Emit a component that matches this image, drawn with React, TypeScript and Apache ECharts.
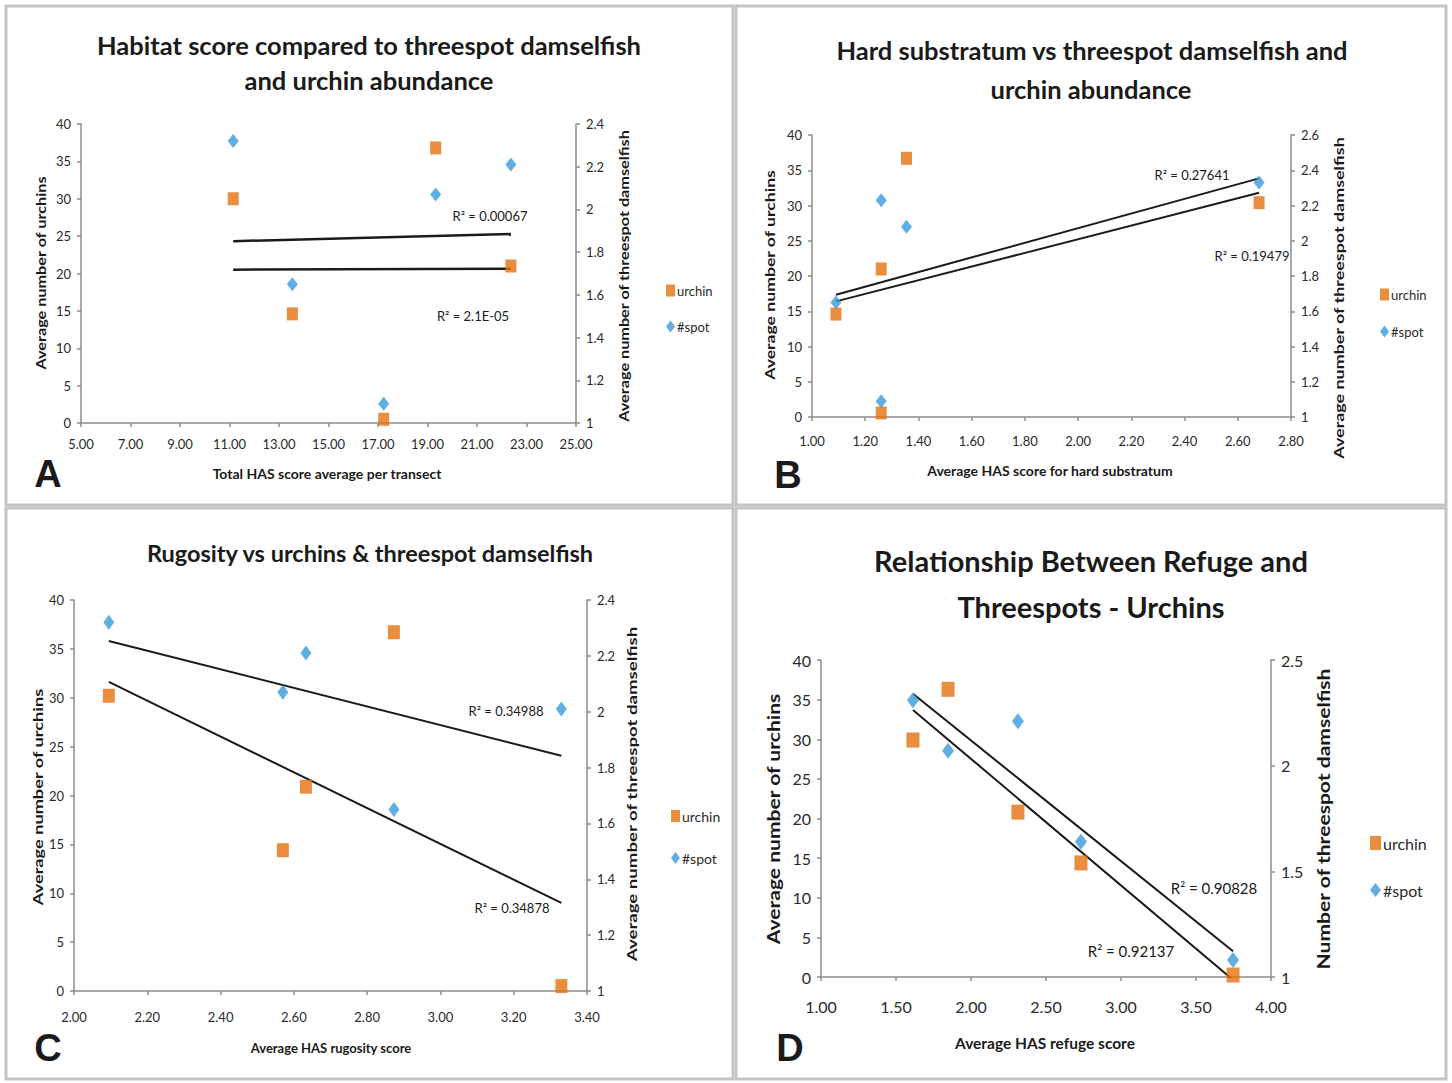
import React, { useEffect, useRef } from "react";
import * as echarts from "echarts";

// ---------- data ----------
// Panel A: Total HAS score average per transect
const xA = [11.15, 13.54, 17.23, 19.33, 22.37];
const urchinA = [30.0, 14.6, 0.5, 36.8, 21.0];
const spotA = [2.32, 1.65, 1.09, 2.07, 2.21];
const xTicksA = [5, 7, 9, 11, 13, 15, 17, 19, 21, 23, 25];
const r2A = ["R\u00b2 = 0.00067", "R\u00b2 = 2.1E-05"]; // spot, urchin

// Panel B: Average HAS score for hard substratum
const xB = [1.09, 1.26, 1.26, 1.355, 2.68];
const urchinB = [14.6, 21.0, 0.57, 36.7, 30.4];
const spotB = [1.65, 2.23, 1.09, 2.08, 2.33];
const r2B = ["R\u00b2 = 0.27641", "R\u00b2 = 0.19479"];

// Panel C: Average HAS rugosity score
const xC = [2.095, 2.57, 2.633, 2.873, 3.33];
const urchinC = [30.2, 14.4, 20.9, 36.7, 0.5];
const spotC = [2.32, 2.07, 2.21, 1.65, 2.01];
const r2C = ["R\u00b2 = 0.34988", "R\u00b2 = 0.34878"];

// Panel D: Average HAS refuge score
const xD = [1.613, 1.847, 2.313, 2.733, 3.747];
const urchinD = [29.9, 36.3, 20.8, 14.4, 0.25];
const spotD = [2.31, 2.07, 2.21, 1.64, 1.08];
const r2D = ["R\u00b2 = 0.90828", "R\u00b2 = 0.92137"];

const titles = [
  ["Habitat score compared to threespot damselfish", "and urchin abundance"],
  ["Hard substratum vs threespot damselfish and", "urchin abundance"],
  ["Rugosity vs urchins & threespot damselfish"],
  ["Relationship Between Refuge and", "Threespots - Urchins"],
];
const xNames = [
  "Total HAS score average per transect",
  "Average HAS score for hard substratum",
  "Average HAS rugosity score",
  "Average HAS refuge score",
];
const leftNames = [
  "Average number of urchins",
  "Average number of urchins",
  "Average number of urchins",
  "Average number of urchins",
];
const rightNames = [
  "Average number of threespot damselfish",
  "Average number of threespot damselfish",
  "Average number of threespot damselfish",
  "Number of threespot damselfish",
];
const letters = ["A", "B", "C", "D"];
const seriesNames = ["urchin", "#spot"];

const FONT = "Lato";
const ORANGE = "#E5700E";
const BLUE = "#3A9AD8";
const AXIS = "#8c8c8c";
const INK = "#1a1a1a";

// least-squares trend line between the smallest and largest x
function trend(xs: number[], ys: number[]) {
  const n = xs.length;
  const mx = xs.reduce((a, b) => a + b, 0) / n;
  const my = ys.reduce((a, b) => a + b, 0) / n;
  let sxy = 0, sxx = 0;
  for (let i = 0; i < n; i++) {
    sxy += (xs[i] - mx) * (ys[i] - my);
    sxx += (xs[i] - mx) * (xs[i] - mx);
  }
  const b = sxy / sxx;
  const a = my - b * mx;
  const x0 = Math.min(...xs), x1 = Math.max(...xs);
  return [[x0, a + b * x0], [x1, a + b * x1]];
}
const zip = (xs: number[], ys: number[]) => xs.map((x, i) => [x, ys[i]]);

function buildOption() {
  const panels = [
    { xs: xA, u: urchinA, s: spotA, grid: { left: 81, top: 124, width: 495, height: 299 },
      xmin: 5, xmax: 25, xint: 2, xTicks: xTicksA, rmax: 2.4, rint: 0.2, fs: 13, lfs: 13,
      xm: 14, lw: 2.5, sq: [11, 13], dm: [11, 14],
      legend: { left: 661, top: 279, gap: 23 } },
    { xs: xB, u: urchinB, s: spotB, grid: { left: 812, top: 135, width: 479, height: 282 },
      xmin: 1, xmax: 2.8, xint: 0.2, rmax: 2.6, rint: 0.2, fs: 13, lfs: 13,
      xm: 17, lw: 2, sq: [11, 13], dm: [11, 14],
      legend: { left: 1375, top: 283, gap: 24 } },
    { xs: xC, u: urchinC, s: spotC, grid: { left: 74, top: 600, width: 513, height: 391 },
      xmin: 2, xmax: 3.4, xint: 0.2, rmax: 2.4, rint: 0.2, fs: 13, lfs: 14,
      xm: 19, lw: 2, sq: [12, 14], dm: [11, 15],
      legend: { left: 666, top: 804, gap: 28 } },
    { xs: xD, u: urchinD, s: spotD, grid: { left: 821, top: 660, width: 450, height: 317 },
      xmin: 1, xmax: 4, xint: 0.5, rmax: 2.5, rint: 0.5, fs: 16, lfs: 16,
      xm: 21, lw: 2, sq: [13, 15], dm: [12, 16],
      legend: { left: 1365, top: 830, gap: 31 } },
  ];

  const lineCommon = { color: AXIS, width: 1.5 };
  const grid: any[] = [];
  const xAxis: any[] = [];
  const yAxis: any[] = [];
  const series: any[] = [];
  const legend: any[] = [];

  panels.forEach((p, i) => {
    grid.push({ ...p.grid, containLabel: false });
    const xa: any = {
      type: "value", gridIndex: i, min: p.xmin, max: p.xmax,
      axisLine: { show: true, onZero: false, lineStyle: lineCommon },
      axisTick: { show: true, length: 4, lineStyle: lineCommon },
      splitLine: { show: false },
      axisLabel: {
        color: "#2a2a2a", fontFamily: FONT, fontSize: p.fs, margin: p.xm,
        formatter: (v: number) => v.toFixed(2),
      },
    };
    if (p.xTicks) {
      xa.axisLabel.customValues = p.xTicks;
      xa.axisTick.customValues = p.xTicks;
    } else {
      xa.interval = p.xint;
    }
    xAxis.push(xa);
    yAxis.push({
      type: "value", gridIndex: i, position: "left", min: 0, max: 40, interval: 5,
      axisLine: { show: true, lineStyle: lineCommon },
      axisTick: { show: true, length: 4, lineStyle: lineCommon },
      splitLine: { show: false },
      axisLabel: { color: "#2a2a2a", fontFamily: FONT, fontSize: p.fs, margin: 10 },
    });
    yAxis.push({
      type: "value", gridIndex: i, position: "right", min: 1, max: p.rmax, interval: p.rint,
      axisLine: { show: true, lineStyle: lineCommon },
      axisTick: { show: true, length: 4, lineStyle: lineCommon },
      splitLine: { show: false },
      axisLabel: {
        color: "#2a2a2a", fontFamily: FONT, fontSize: p.fs, margin: 10,
        formatter: (v: number) => String(+v.toFixed(1)),
      },
    });
    series.push({
      type: "line", xAxisIndex: i, yAxisIndex: 2 * i, data: trend(p.xs, p.u),
      showSymbol: false, silent: true, z: 2,
      lineStyle: { color: INK, width: p.lw },
    });
    series.push({
      type: "line", xAxisIndex: i, yAxisIndex: 2 * i + 1, data: trend(p.xs, p.s),
      showSymbol: false, silent: true, z: 2,
      lineStyle: { color: INK, width: p.lw },
    });
    series.push({
      type: "scatter", name: seriesNames[0], xAxisIndex: i, yAxisIndex: 2 * i,
      data: zip(p.xs, p.u), symbol: "rect", symbolSize: p.sq, z: 4,
      itemStyle: { color: ORANGE },
    });
    series.push({
      type: "scatter", name: seriesNames[1], xAxisIndex: i, yAxisIndex: 2 * i + 1,
      data: zip(p.xs, p.s), symbol: "diamond", symbolSize: p.dm, z: 5,
      itemStyle: { color: BLUE },
    });
    legend.push({
      orient: "vertical", left: p.legend.left, top: p.legend.top, itemGap: p.legend.gap,
      itemWidth: i === 3 ? 11 : 9, itemHeight: i === 3 ? 14 : 12,
      textStyle: { fontFamily: FONT, fontSize: p.lfs, color: "#2a2a2a", padding: [0, 0, 0, -3] },
      data: [
        { name: seriesNames[0], icon: "rect", itemStyle: { color: ORANGE } },
        { name: seriesNames[1], icon: "diamond", itemStyle: { color: BLUE } },
      ],
      selectedMode: false,
    });
  });

  const g: any[] = [];
  const borders = [
    [6, 6, 727, 499], [736, 6, 710, 499], [6, 508, 727, 571], [736, 508, 710, 571],
  ];
  borders.forEach((b) =>
    g.push({
      type: "rect", shape: { x: b[0], y: b[1], width: b[2], height: b[3] },
      style: { fill: "none", stroke: "#c4c4c4", lineWidth: 3 }, silent: true, z: 0,
    })
  );
  const text = (t: string, x: number, y: number, font: string, extra: any = {}) => ({
    type: "text", x, y, silent: true, ...extra,
    style: { text: t, font, fill: INK, textAlign: "center", verticalAlign: "middle" },
  });
  // titles
  g.push(text(titles[0][0], 369, 45, `bold 25.5px ${FONT}`));
  g.push(text(titles[0][1], 369, 80, `bold 25.5px ${FONT}`));
  g.push(text(titles[1][0], 1092, 50, `bold 25.5px ${FONT}`));
  g.push(text(titles[1][1], 1091, 89, `bold 25.5px ${FONT}`));
  g.push(text(titles[2][0], 370, 553, `bold 23.5px ${FONT}`));
  g.push(text(titles[3][0], 1091, 560, `bold 29px ${FONT}`));
  g.push(text(titles[3][1], 1091, 606, `bold 29px ${FONT}`));
  // x-axis names
  g.push(text(xNames[0], 327, 473, `bold 14px ${FONT}`));
  g.push(text(xNames[1], 1050, 470, `bold 14px ${FONT}`));
  g.push(text(xNames[2], 331, 1048, `bold 13px ${FONT}`));
  g.push(text(xNames[3], 1045, 1043, `bold 15.5px ${FONT}`));
  // y-axis names (rotated; stretched along their length like the reference)
  const rot = Math.PI / 2;
  g.push(text(leftNames[0], 40, 273, `bold 14px ${FONT}`, { rotation: rot, scaleX: 1.16 }));
  g.push(text(leftNames[1], 769, 275, `bold 14px ${FONT}`, { rotation: rot, scaleX: 1.26 }));
  g.push(text(leftNames[2], 37, 797, `bold 14px ${FONT}`, { rotation: rot, scaleX: 1.3 }));
  g.push(text(leftNames[3], 773, 819, `bold 17px ${FONT}`, { rotation: rot, scaleX: 1.24 }));
  g.push(text(rightNames[0], 623, 276, `bold 14px ${FONT}`, { rotation: rot, scaleX: 1.16 }));
  g.push(text(rightNames[1], 1338, 298, `bold 14px ${FONT}`, { rotation: rot, scaleX: 1.28 }));
  g.push(text(rightNames[2], 632, 794, `bold 14px ${FONT}`, { rotation: rot, scaleX: 1.33 }));
  g.push(text(rightNames[3], 1323, 819, `bold 17px ${FONT}`, { rotation: rot, scaleX: 1.24 }));
  // panel letters
  const lf = `bold 38px "Liberation Sans", Arial, sans-serif`;
  g.push(text(letters[0], 48, 474, lf));
  g.push(text(letters[1], 788, 475, lf));
  g.push(text(letters[2], 48, 1048, lf));
  g.push(text(letters[3], 790, 1048, lf));
  // R² labels
  g.push(text(r2A[0], 490, 216, `13px ${FONT}`));
  g.push(text(r2A[1], 473, 316, `13px ${FONT}`));
  g.push(text(r2B[0], 1192, 175, `13px ${FONT}`));
  g.push(text(r2B[1], 1252, 256, `13px ${FONT}`));
  g.push(text(r2C[0], 506, 711, `13px ${FONT}`));
  g.push(text(r2C[1], 512, 908, `13px ${FONT}`));
  g.push(text(r2D[0], 1214, 888, `15px ${FONT}`));
  g.push(text(r2D[1], 1131, 951, `15px ${FONT}`));

  return {
    animation: false,
    backgroundColor: "#ffffff",
    grid, xAxis, yAxis, series, legend, graphic: g,
  };
}

export default function App() {
  const ref = useRef<HTMLDivElement>(null);
  useEffect(() => {
    if (!ref.current) return;
    const chart = echarts.init(ref.current, null, { renderer: "svg" });
    chart.setOption(buildOption() as any);
    return () => chart.dispose();
  }, []);
  return (
    <div
      ref={ref}
      style={{ position: "absolute", left: 0, top: 0, width: 1452, height: 1083, background: "#fff" }}
    />
  );
}
